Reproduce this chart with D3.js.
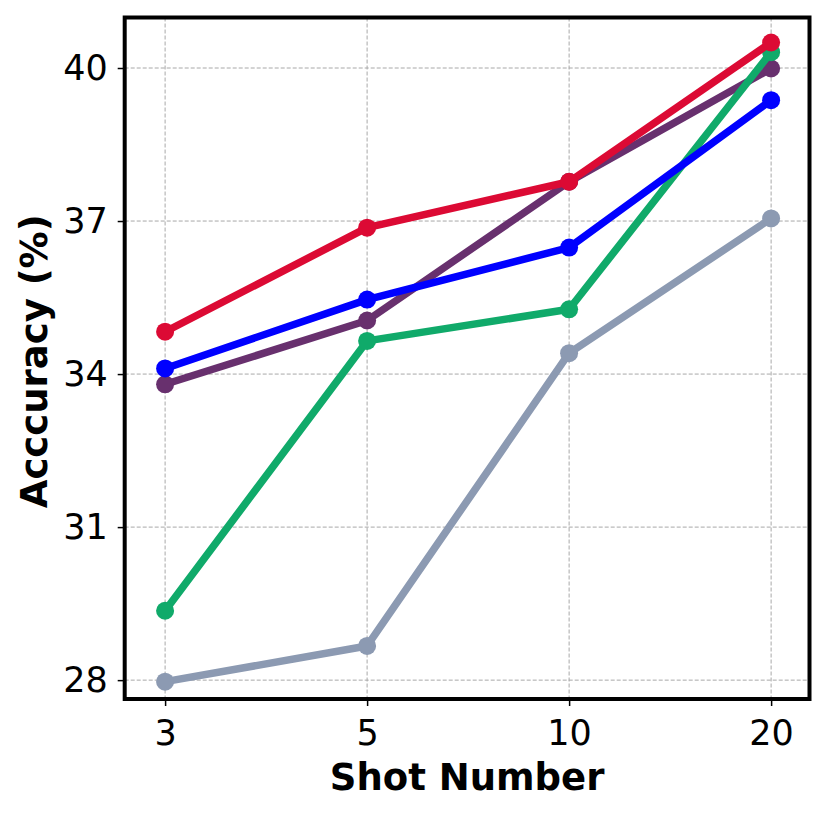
<!DOCTYPE html>
<html>
<head>
<meta charset="utf-8">
<script src="https://cdn.jsdelivr.net/npm/d3@7"></script>
<style>
  body { margin: 0; background: #fff; }
  svg { font-family: "DejaVu Sans", sans-serif; }
</style>
</head>
<body>
<svg id="chart" width="830" height="815"></svg>
<script>
// shot numbers on the x axis
const shots = ["3", "5", "10", "20"];
const yTicks = [28, 31, 34, 37, 40];

// accuracy per method, drawn bottom to top
const gray   = [27.97, 28.67, 34.41, 37.05];
const purple = [33.80, 35.05, 37.77, 39.99];
const green  = [29.36, 34.65, 35.27, 40.31];
const blue   = [34.11, 35.46, 36.48, 39.37];
const red    = [34.83, 36.87, 37.77, 40.50];

const series = [
  {values: gray,   color: "#8c9ab2"},
  {values: purple, color: "#68306e"},
  {values: green,  color: "#10aa6a"},
  {values: blue,   color: "#0000ff"},
  {values: red,    color: "#dc0a34"}
];

const margin = {top: 17.5, right: 20.5, bottom: 116, left: 124.7};
const width = 830 - margin.left - margin.right;
const height = 815 - margin.top - margin.bottom;

const svg = d3.select("#chart");
const g = svg.append("g")
  .attr("transform", "translate(" + margin.left + "," + margin.top + ")");

const x = d3.scaleLinear().domain([-0.2, 3.19]).range([0, width]);
const y = d3.scaleLinear().domain([27.63, 40.99]).range([height, 0]);

// grid
g.append("g").selectAll("line")
  .data(yTicks)
  .enter().append("line")
    .attr("x1", 0).attr("x2", width)
    .attr("y1", d => y(d)).attr("y2", d => y(d))
    .attr("stroke", "#a8a8a8").attr("stroke-width", 1)
    .attr("stroke-dasharray", "4,2");
g.append("g").selectAll("line")
  .data(shots)
  .enter().append("line")
    .attr("x1", (d, i) => x(i)).attr("x2", (d, i) => x(i))
    .attr("y1", 0).attr("y2", height)
    .attr("stroke", "#a8a8a8").attr("stroke-width", 1)
    .attr("stroke-dasharray", "4,2");

// axes
const xAxis = d3.axisBottom(x)
  .tickValues(d3.range(shots.length))
  .tickFormat(i => shots[i])
  .tickSize(7).tickPadding(10);
const yAxis = d3.axisLeft(y)
  .tickValues(yTicks)
  .tickSize(7).tickPadding(10);

const gx = g.append("g").attr("transform", "translate(0," + height + ")").call(xAxis);
const gy = g.append("g").call(yAxis);
[gx, gy].forEach(a => {
  a.select(".domain").remove();
  a.selectAll("line").attr("stroke", "#000").attr("stroke-width", 1.5);
  a.selectAll("text")
    .attr("fill", "#000")
    .style("font-size", "35px")
    .style("font-family", "DejaVu Sans");
});
gx.selectAll("text").attr("dy", "0.83em");

// lines
const line = d3.line()
  .x((d, i) => x(i))
  .y(d => y(d));

series.forEach(s => {
  const sg = g.append("g");
  sg.append("path")
    .datum(s.values)
    .attr("d", line)
    .attr("fill", "none")
    .attr("stroke", s.color)
    .attr("stroke-width", 7.5)
    .attr("stroke-linejoin", "round");
  sg.selectAll("circle")
    .data(s.values)
    .enter().append("circle")
      .attr("cx", (d, i) => x(i))
      .attr("cy", d => y(d))
      .attr("r", 9)
      .attr("fill", s.color);
});

// frame
g.append("rect")
  .attr("x", 0).attr("y", 0)
  .attr("width", width).attr("height", height)
  .attr("fill", "none")
  .attr("stroke", "#000")
  .attr("stroke-width", 4);

// axis labels
svg.append("text")
  .attr("x", margin.left + x(1.5) - 1)
  .attr("y", 790)
  .attr("text-anchor", "middle")
  .style("font-size", "37px")
  .style("font-weight", "bold")
  .text("Shot Number");

svg.append("text")
  .attr("transform", "translate(47," + (margin.top + y(34.25)) + ") rotate(-90)")
  .attr("text-anchor", "middle")
  .style("font-size", "37px")
  .style("font-weight", "bold")
  .text("Acccuracy (%)");
</script>
</body>
</html>
